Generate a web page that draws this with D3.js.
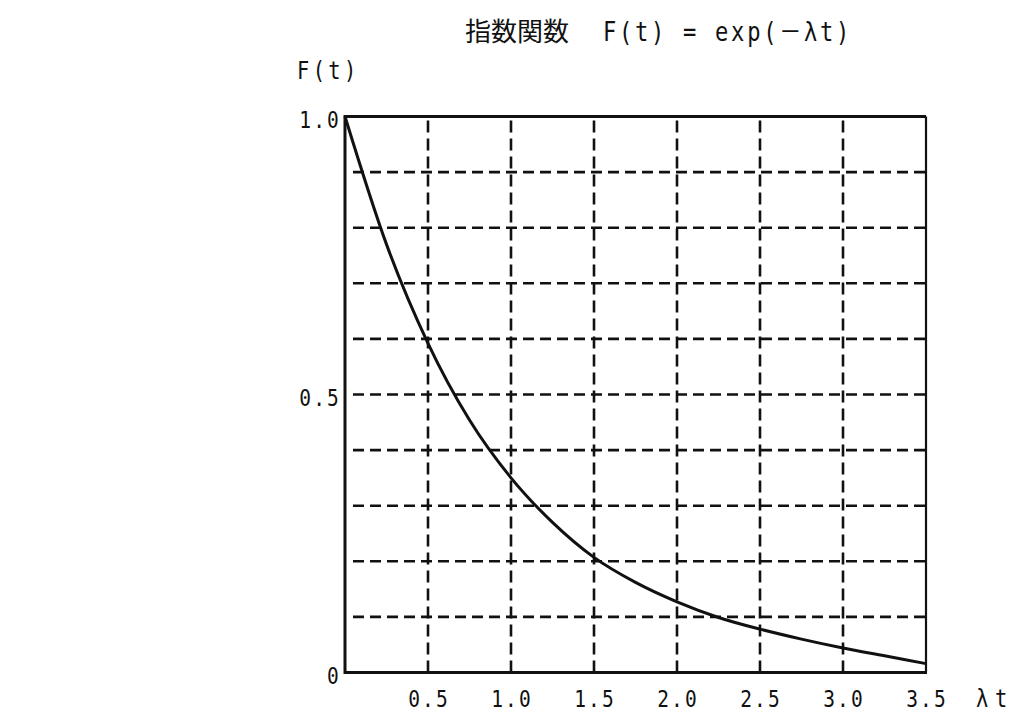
<!DOCTYPE html>
<html>
<head>
<meta charset="utf-8">
<script src="https://cdn.jsdelivr.net/npm/d3@7"></script>
<style>
  body { margin: 0; background: #fff; }
  text { fill: #111; }
  .mono { font-family: "DejaVu Sans Mono", "Liberation Mono", monospace; }
</style>
</head>
<body>
<div id="chart"></div>
<script>
// curve (lambda*t, F(t))
const tValues = [0, 0.25, 0.5, 0.75, 1.0, 1.25, 1.5, 1.75, 2.0, 2.25, 2.5, 2.75, 3.0, 3.25, 3.5];
const fValues = [1.0, 0.77, 0.592, 0.454, 0.35, 0.27, 0.207, 0.162, 0.127, 0.099, 0.078, 0.06, 0.044, 0.03, 0.016];

const xTicks = [0.5, 1.0, 1.5, 2.0, 2.5, 3.0, 3.5];
const xTickLabels = ['0.5', '1.0', '1.5', '2.0', '2.5', '3.0', '3.5'];
const yTicks = [0, 0.5, 1.0];
const yTickLabels = ['0', '0.5', '1.0'];
const yGrid = [0.1, 0.2, 0.3, 0.4, 0.5, 0.6, 0.7, 0.8, 0.9];

const titleCJK = '指数関数';
const titleFormula = ['F(t) = exp(', '－', 'λt)'];
const yAxisLabel = 'F(t)';
const xAxisLabel = 'λt';

const W = 1023, H = 728;
const plotLeft = 345, plotRight = 926, plotTop = 116.5, plotBottom = 672.5;

const svg = d3.select('#chart').append('svg')
    .attr('width', W)
    .attr('height', H);

const x = d3.scaleLinear().domain([0, 3.5]).range([plotLeft, plotRight]);
const y = d3.scaleLinear().domain([0, 1]).range([plotBottom, plotTop]);

//Grid
svg.append('g')
    .selectAll('line')
    .data(yGrid)
    .enter().append('line')
    .attr('x1', plotLeft + 8).attr('x2', plotRight)
    .attr('y1', d => y(d)).attr('y2', d => y(d))
    .attr('stroke', '#111')
    .attr('stroke-width', 2.6)
    .attr('stroke-dasharray', '11,6');

svg.append('g')
    .selectAll('line')
    .data(xTicks.slice(0, -1))
    .enter().append('line')
    .attr('x1', d => x(d)).attr('x2', d => x(d))
    .attr('y1', plotTop + 4).attr('y2', plotBottom)
    .attr('stroke', '#111')
    .attr('stroke-width', 2.6)
    .attr('stroke-dasharray', '12,6');

//Frame
svg.append('line')
    .attr('x1', plotLeft).attr('x2', plotRight).attr('y1', plotTop).attr('y2', plotTop)
    .attr('stroke', '#111').attr('stroke-width', 3);
svg.append('line')
    .attr('x1', plotRight).attr('x2', plotRight).attr('y1', plotTop).attr('y2', plotBottom)
    .attr('stroke', '#111').attr('stroke-width', 2.2);
svg.append('line')
    .attr('x1', plotLeft).attr('x2', plotLeft).attr('y1', plotTop - 1.5).attr('y2', plotBottom + 1.5)
    .attr('stroke', '#111').attr('stroke-width', 3);
svg.append('line')
    .attr('x1', plotLeft).attr('x2', plotRight + 1).attr('y1', plotBottom).attr('y2', plotBottom)
    .attr('stroke', '#111').attr('stroke-width', 3);

//Curve
const points = tValues.map((t, i) => [t, fValues[i]]);
svg.append('path')
    .datum(points)
    .attr('fill', 'none')
    .attr('stroke', '#111')
    .attr('stroke-width', 3)
    .attr('d', d3.line()
        .x(d => x(d[0]))
        .y(d => y(d[1]))
        .curve(d3.curveMonotoneX));

//Tick labels (narrow typewriter look)
svg.append('g')
    .selectAll('text')
    .data(xTicks)
    .enter().append('text')
    .classed('mono', true)
    .attr('transform', d => `translate(${x(d) + 1},707) scale(0.85,1)`)
    .attr('text-anchor', 'middle')
    .attr('font-size', 23)
    .attr('letter-spacing', 2.5)
    .text((d, i) => xTickLabels[i]);

svg.append('g')
    .selectAll('text')
    .data(yTicks)
    .enter().append('text')
    .classed('mono', true)
    .attr('transform', d => `translate(341,${y(d) + 11}) scale(0.85,1)`)
    .attr('text-anchor', 'end')
    .attr('font-size', 23)
    .attr('letter-spacing', 2.5)
    .text((d, i) => yTickLabels[i]);

//Axis labels
svg.append('text')
    .classed('mono', true)
    .attr('transform', 'translate(297,79) scale(0.85,1)')
    .attr('font-size', 24)
    .attr('letter-spacing', 4)
    .text(yAxisLabel);

svg.append('text')
    .classed('mono', true)
    .attr('transform', 'translate(976,707) scale(0.85,1)')
    .attr('font-size', 24)
    .attr('letter-spacing', 8)
    .text(xAxisLabel);

//Title
svg.append('text')
    .attr('x', 465).attr('y', 41)
    .attr('font-family', '"Noto Sans CJK JP", sans-serif')
    .attr('font-size', 26)
    .text(titleCJK);

const formula = svg.append('text')
    .classed('mono', true)
    .attr('transform', 'translate(603,41) scale(0.85,1)')
    .attr('font-size', 26)
    .attr('letter-spacing', 3.2);
formula.append('tspan').text(titleFormula[0]);
formula.append('tspan')
    .attr('font-family', '"Noto Sans CJK JP", sans-serif')
    .text(titleFormula[1]);
formula.append('tspan').text(titleFormula[2]);
</script>
</body>
</html>
